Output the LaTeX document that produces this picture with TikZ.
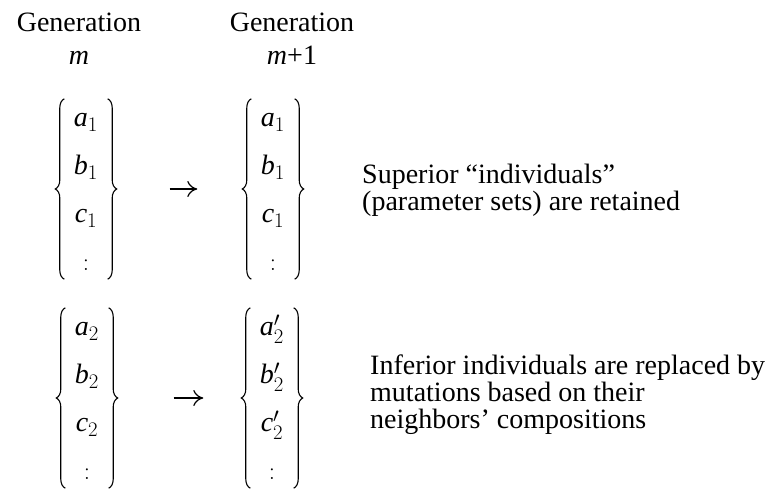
\documentclass[tikz,border=0pt]{standalone}
\usepackage{fontspec}
\setmainfont{Liberation Serif}
\usepackage{amsmath}
\usetikzlibrary{arrows.meta, decorations.pathreplacing, positioning}
% one individual = column of parameters
\newcommand{\popvec}[2]{$\renewcommand{\arraystretch}{2}\begin{array}{@{}c@{}}\mathit{a}#1_{#2}\\ \mathit{b}#1_{#2}\\ \mathit{c}#1_{#2}\\ :\end{array}$}

\begin{document}
\begin{tikzpicture}[x=1pt, y=1pt, >={To[length=10pt,width=16pt]},
  every node/.style={font=\fontsize{28}{27}\selectfont, inner sep=0pt},
  head/.style={align=center, anchor=base, font=\fontsize{28}{33}\selectfont},
  vec/.style={font=\fontsize{28}{24}\selectfont, inner xsep=9.5pt, inner ysep=0pt},
  curly/.style={decorate, decoration={brace, amplitude=9pt}, line width=1.1pt},
  evolve/.style={->, line width=1.2pt}]
  \useasboundingbox (0,0) rectangle (775,-489);
  % generation headings
  \node[head] (gen0) at (79,-65) {Generation\\ \textit{m}};
  \node[head] (gen1) at (292,-65) {Generation\\ \textit{m}+1};
  % superior individuals
  \node[vec] (old1) at (86,-189) {\popvec{}{1}};
  \node[vec] (new1) at (273,-189) {\popvec{}{1}};
  % inferior individuals
  \node[vec] (old2) at (87,-398) {\popvec{}{2}};
  \node[vec] (new2) at (272,-398) {\popvec{'}{2}};
  % braces round each vector
  \foreach \v in {old1, new1, old2, new2}{
    \draw[curly] ([yshift=6pt]\v.south west) -- ([yshift=-6pt]\v.north west);
    \draw[curly] ([yshift=-6pt]\v.north east) -- ([yshift=6pt]\v.south east);
  }
  % generation step
  \draw[evolve, shorten <=62pt, shorten >=54pt] (old1) -- (new1);
  \draw[evolve, shorten <=65pt, shorten >=47pt] (old2) -- (new2);
  % notes
  \node[anchor=base west, align=left] (keep) at (362,-210)
    {Superior “individuals”\\ (parameter sets) are retained};
  \node[anchor=base west, align=left] (mutate) at (370,-428)
    {Inferior individuals are replaced by\\ mutations based on their\\ neighbors’ compositions};
\end{tikzpicture}
\end{document}
